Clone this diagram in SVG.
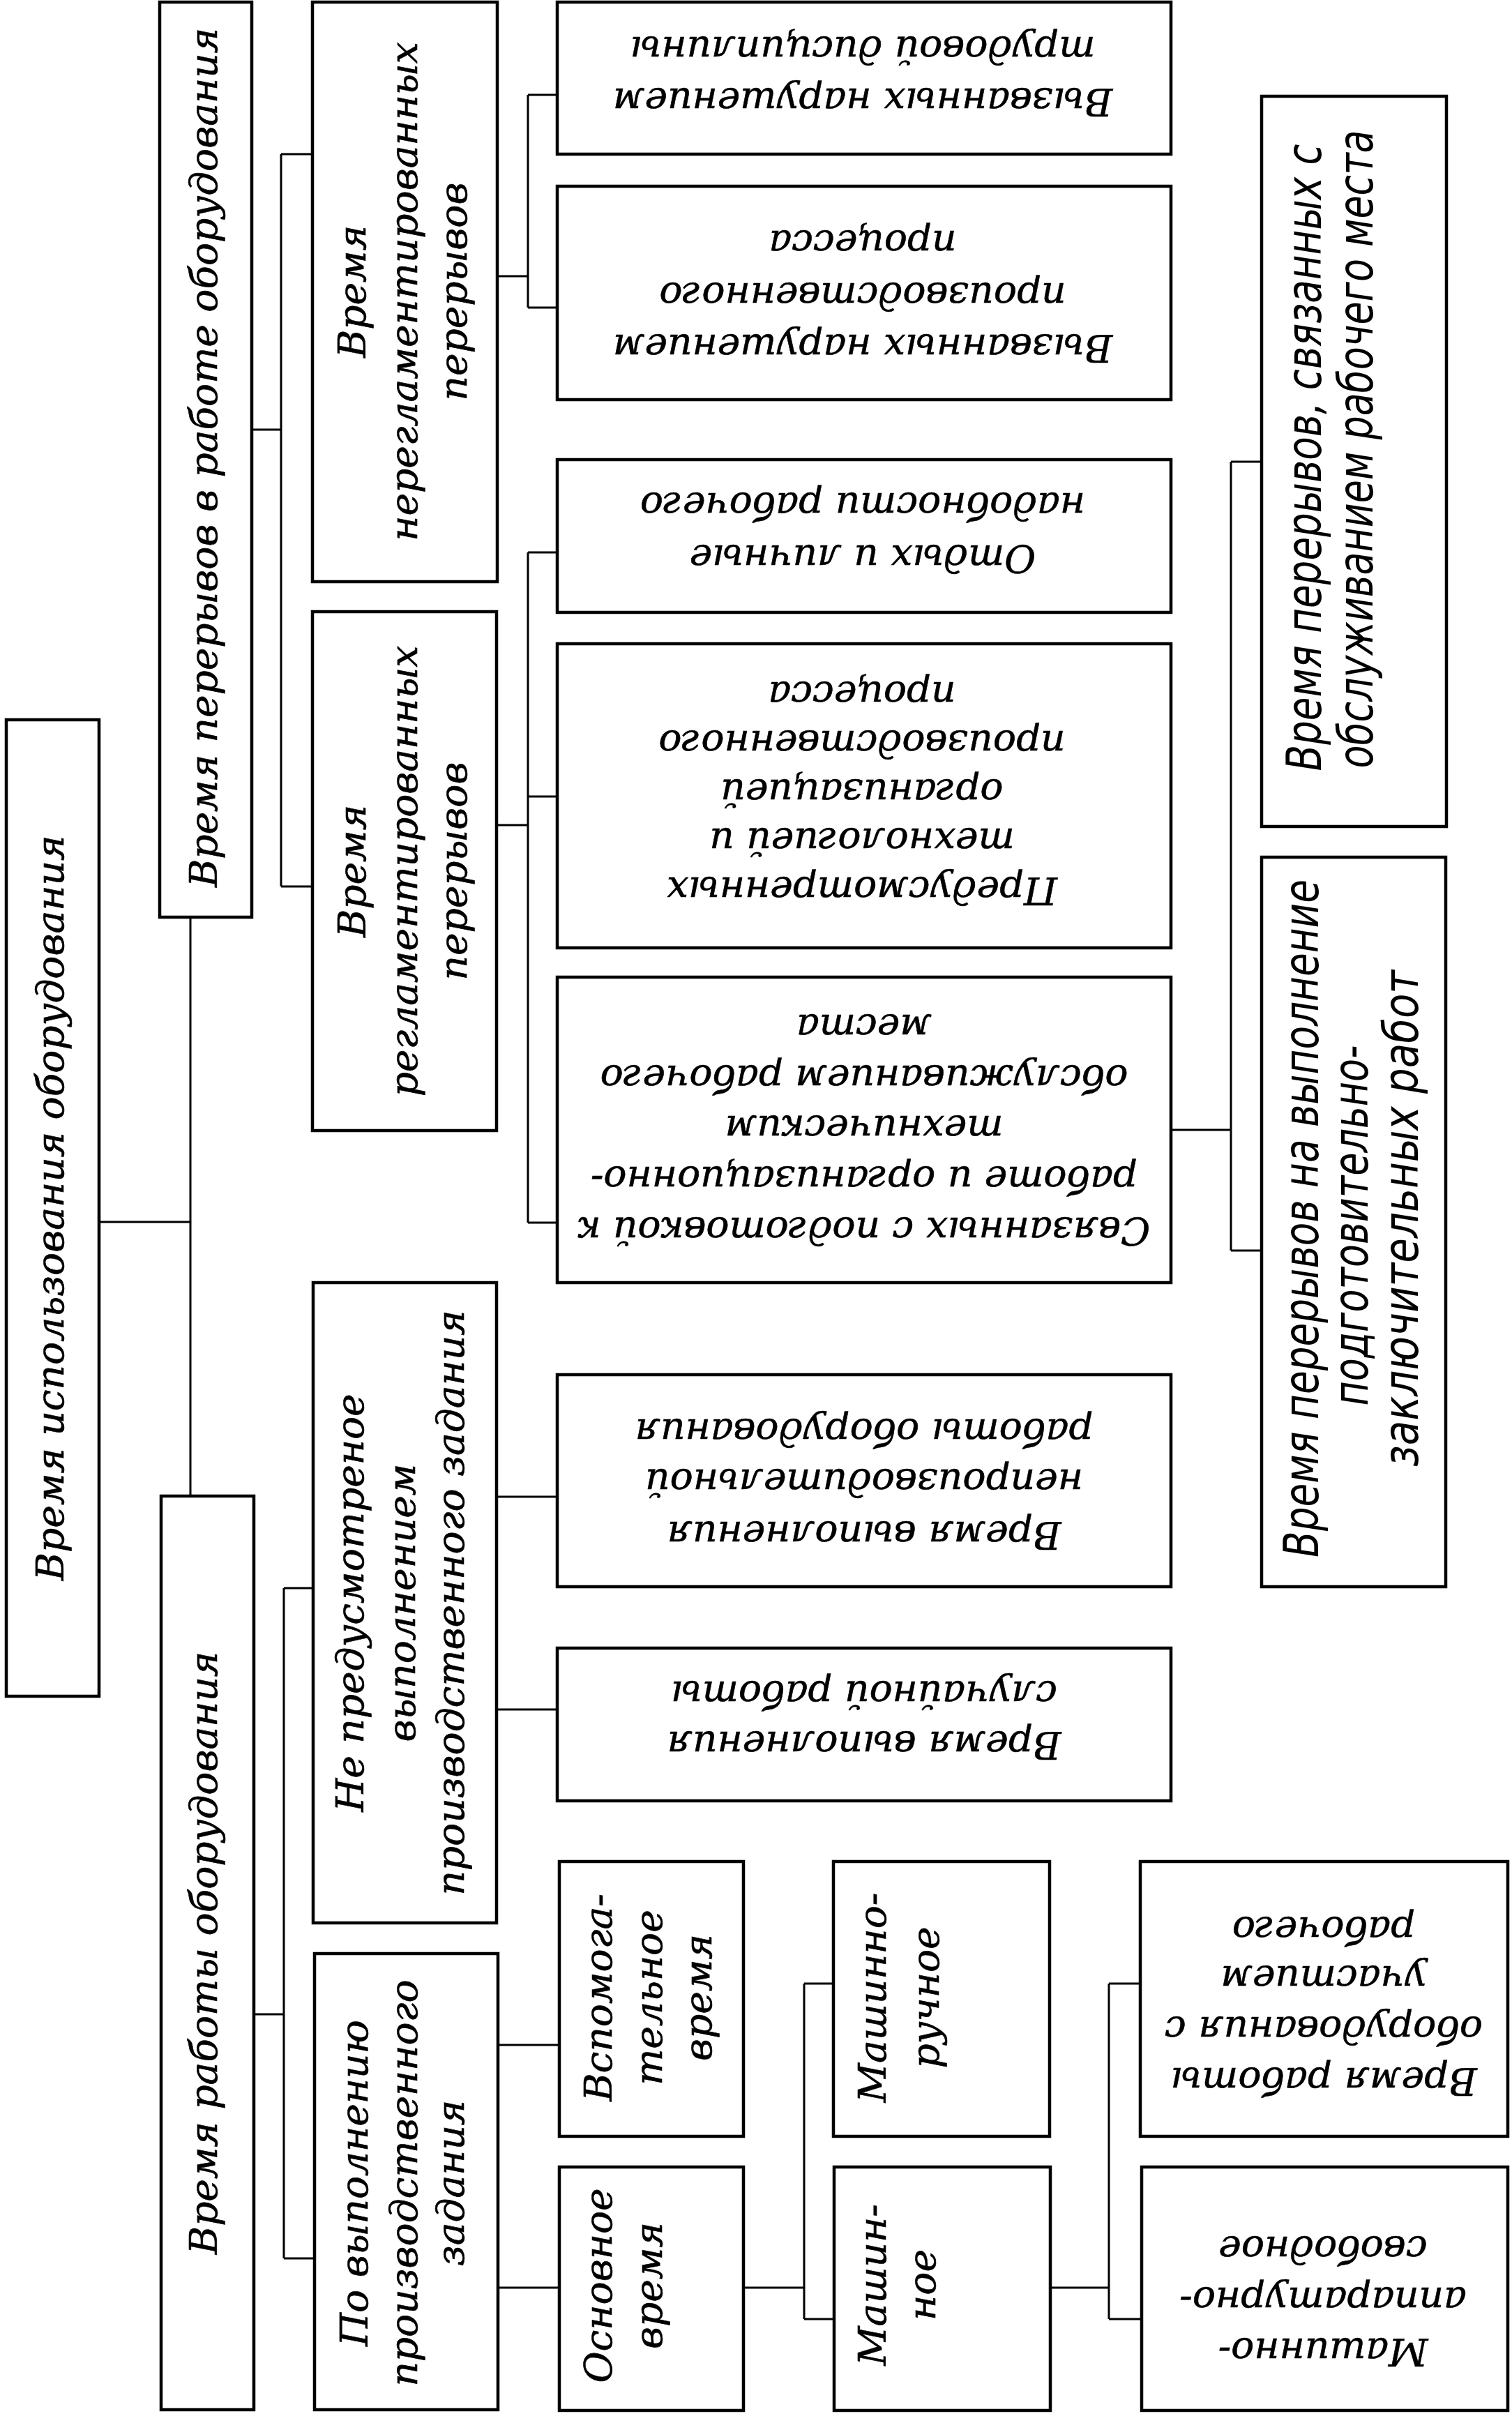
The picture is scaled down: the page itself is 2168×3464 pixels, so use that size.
<svg xmlns="http://www.w3.org/2000/svg" width="2168" height="3464" viewBox="0 0 2168 3464">
<style>
.box{fill:#fff;stroke:#000;stroke-width:4.5}
.con{fill:none;stroke:#000;stroke-width:3}
.t{font-family:"DejaVu Serif","Liberation Serif",serif;font-style:italic;font-size:55px;fill:#000;stroke:#000;stroke-width:0.6;text-anchor:middle;dominant-baseline:central}
.n{font-family:"Liberation Sans Narrow","DejaVu Sans Condensed","Liberation Sans",sans-serif;font-style:italic;font-size:70px;fill:#000;text-anchor:middle;dominant-baseline:central}
</style>
<rect width="2168" height="3464" fill="#fff"/>
<g id="connectors" class="con">
<path d="M142,1752 H273 M273,1315 V2145"/>
<path d="M361,616 H403 M403,221 V1271 M403,221 H448 M403,1271 H448"/>
<path d="M364,2888 H407 M407,2277 V3238 M407,2277 H449 M407,3238 H451"/>
<path d="M713,396 H757 M757,136 V441 M757,136 H799 M757,441 H799"/>
<path d="M712,1183 H757 M757,792 V1753 M757,792 H799 M757,1142 H799 M757,1753 H799"/>
<path d="M712,2146 H799 M712,2451 H799"/>
<path d="M714,2932 H802 M714,3280 H802"/>
<path d="M1679,1620 H1765 M1765,662 V1793 M1765,662 H1809 M1765,1793 H1809"/>
<path d="M1066,3280 H1153 M1153,2844 V3325 M1153,2844 H1195 M1153,3325 H1196"/>
<path d="M1506,3280 H1590 M1590,2844 V3325 M1590,2844 H1635 M1590,3325 H1637"/>
</g>
<g id="n-root"><rect class="box" x="9" y="1032" width="133" height="1400"/>
<text class="t" transform="translate(75,1732) rotate(-90)"><tspan x="0" y="-3">Время использования оборудования</tspan></text></g>
<g id="n-b1"><rect class="box" x="229" y="3" width="132" height="1312"/>
<text class="t" transform="translate(295,656) rotate(-90)"><tspan x="0" y="-3">Время перерывов в работе оборудования</tspan></text></g>
<g id="n-b2"><rect class="box" x="231" y="2145" width="133" height="1310"/>
<text class="t" transform="translate(297,2800) rotate(-90)"><tspan x="0" y="-5">Время работы оборудования</tspan></text></g>
<g id="n-c1"><rect class="box" x="448" y="3" width="265" height="831"/>
<text class="t" transform="translate(580,418) rotate(-90)"><tspan x="0" y="-75">Время</tspan><tspan x="0" y="-1">нерегламентированных</tspan><tspan x="0" y="70">перерывов</tspan></text></g>
<g id="n-c2"><rect class="box" x="448" y="877" width="264" height="744"/>
<text class="t" transform="translate(580,1249) rotate(-90)"><tspan x="0" y="-75">Время</tspan><tspan x="0" y="-1">регламентированных</tspan><tspan x="0" y="70">перерывов</tspan></text></g>
<g id="n-c3"><rect class="box" x="449" y="1839" width="263" height="918"/>
<text class="t" transform="translate(580,2298) rotate(-90)"><tspan x="0" y="-78">Не предусмотреное</tspan><tspan x="0" y="-4">выполнением</tspan><tspan x="0" y="66">производственного задания</tspan></text></g>
<g id="n-c4"><rect class="box" x="451" y="2801" width="263" height="654"/>
<text class="t" transform="translate(582,3130) rotate(-90)"><tspan x="0" y="-74">По выполнению</tspan><tspan x="0" y="-3">производственного</tspan><tspan x="0" y="64">задания</tspan></text></g>
<g id="n-d1"><rect class="box" x="799" y="3" width="880" height="218"/>
<text class="t" transform="translate(1237,112) rotate(180)"><tspan x="0" y="-34">Вызванных нарушением</tspan><tspan x="0" y="40">трудовой дисциплины</tspan></text></g>
<g id="n-d2"><rect class="box" x="799" y="267" width="880" height="306"/>
<text class="t" transform="translate(1237,420) rotate(180)"><tspan x="0" y="-79">Вызванных нарушением</tspan><tspan x="0" y="-5">производственного</tspan><tspan x="0" y="70">процесса</tspan></text></g>
<g id="n-d3"><rect class="box" x="799" y="659" width="880" height="219"/>
<text class="t" transform="translate(1237,768) rotate(180)"><tspan x="0" y="-33">Отдых и личные</tspan><tspan x="0" y="42">надобности рабочего</tspan></text></g>
<g id="n-d4"><rect class="box" x="799" y="923" width="880" height="436"/>
<text class="t" transform="translate(1236,1141) rotate(180)"><tspan x="0" y="-136">Предусмотренных</tspan><tspan x="0" y="-66">технологией и</tspan><tspan x="0" y="4">организацией</tspan><tspan x="0" y="74">производственного</tspan><tspan x="0" y="144">процесса</tspan></text></g>
<g id="n-d5"><rect class="box" x="799" y="1401" width="880" height="438"/>
<text class="t" transform="translate(1239,1620) rotate(180)"><tspan x="0" y="-145">Связанных с подготовкой к</tspan><tspan x="0" y="-72">работе и организационно-</tspan><tspan x="0" y="1">техническим</tspan><tspan x="0" y="73">обслуживанием рабочего</tspan><tspan x="0" y="146">места</tspan></text></g>
<g id="n-d6"><rect class="box" x="799" y="1971" width="880" height="304"/>
<text class="t" transform="translate(1239,2123) rotate(180)"><tspan x="0" y="-78">Время выполнения</tspan><tspan x="0" y="-3">непроизводительной</tspan><tspan x="0" y="69">работы оборудования</tspan></text></g>
<g id="n-d7"><rect class="box" x="799" y="2363" width="880" height="219"/>
<text class="t" transform="translate(1239,2472) rotate(180)"><tspan x="0" y="-30">Время выполнения</tspan><tspan x="0" y="42">случайной работы</tspan></text></g>
<g id="n-e1"><rect class="box" x="1809" y="138" width="265" height="1047"/>
<text class="n" transform="translate(1870,656) rotate(-90)" textLength="899" lengthAdjust="spacingAndGlyphs">Время перерывов, связанных с</text>
<text class="n" transform="translate(1944,644) rotate(-90)" textLength="915" lengthAdjust="spacingAndGlyphs">обслуживанием рабочего места</text></g>
<g id="n-e2"><rect class="box" x="1809" y="1229" width="264" height="1046"/>
<text class="n" transform="translate(1866,1747) rotate(-90)" textLength="972" lengthAdjust="spacingAndGlyphs">Время перерывов на выполнение</text>
<text class="n" transform="translate(1937,1757) rotate(-90)" textLength="517" lengthAdjust="spacingAndGlyphs">подготовительно-</text>
<text class="n" transform="translate(2009,1747) rotate(-90)" textLength="712" lengthAdjust="spacingAndGlyphs">заключительных работ</text></g>
<g id="n-vsp"><rect class="box" x="802" y="2669" width="264" height="394"/>
<text class="t" transform="translate(930,2864) rotate(-90)"><tspan x="0" y="-72">Вспомога-</tspan><tspan x="0" y="0">тельное</tspan><tspan x="0" y="71">время</tspan></text></g>
<g id="n-osn"><rect class="box" x="802" y="3107" width="264" height="349"/>
<text class="t" transform="translate(930,3277) rotate(-90)"><tspan x="0" y="-72">Основное</tspan><tspan x="0" y="0">время</tspan></text></g>
<g id="n-mr"><rect class="box" x="1195" y="2669" width="310" height="394"/>
<text class="t" transform="translate(1289,2864) rotate(-90)"><tspan x="0" y="-38">Машинно-</tspan><tspan x="0" y="38">ручное</tspan></text></g>
<g id="n-m"><rect class="box" x="1196" y="3107" width="310" height="349"/>
<text class="t" transform="translate(1289,3276) rotate(-90)"><tspan x="0" y="-38">Машин-</tspan><tspan x="0" y="33">ное</tspan></text></g>
<g id="n-f1"><rect class="box" x="1635" y="2669" width="527" height="394"/>
<text class="t" transform="translate(1898,2876) rotate(180)"><tspan x="0" y="-108">Время работы</tspan><tspan x="0" y="-35">оборудования с</tspan><tspan x="0" y="38">участием</tspan><tspan x="0" y="108">рабочего</tspan></text></g>
<g id="n-f2"><rect class="box" x="1637" y="3107" width="525" height="349"/>
<text class="t" transform="translate(1897,3299) rotate(180)"><tspan x="0" y="-73">Машинно-</tspan><tspan x="0" y="0">аппаратурно-</tspan><tspan x="0" y="73">свободное</tspan></text></g>
</svg>
